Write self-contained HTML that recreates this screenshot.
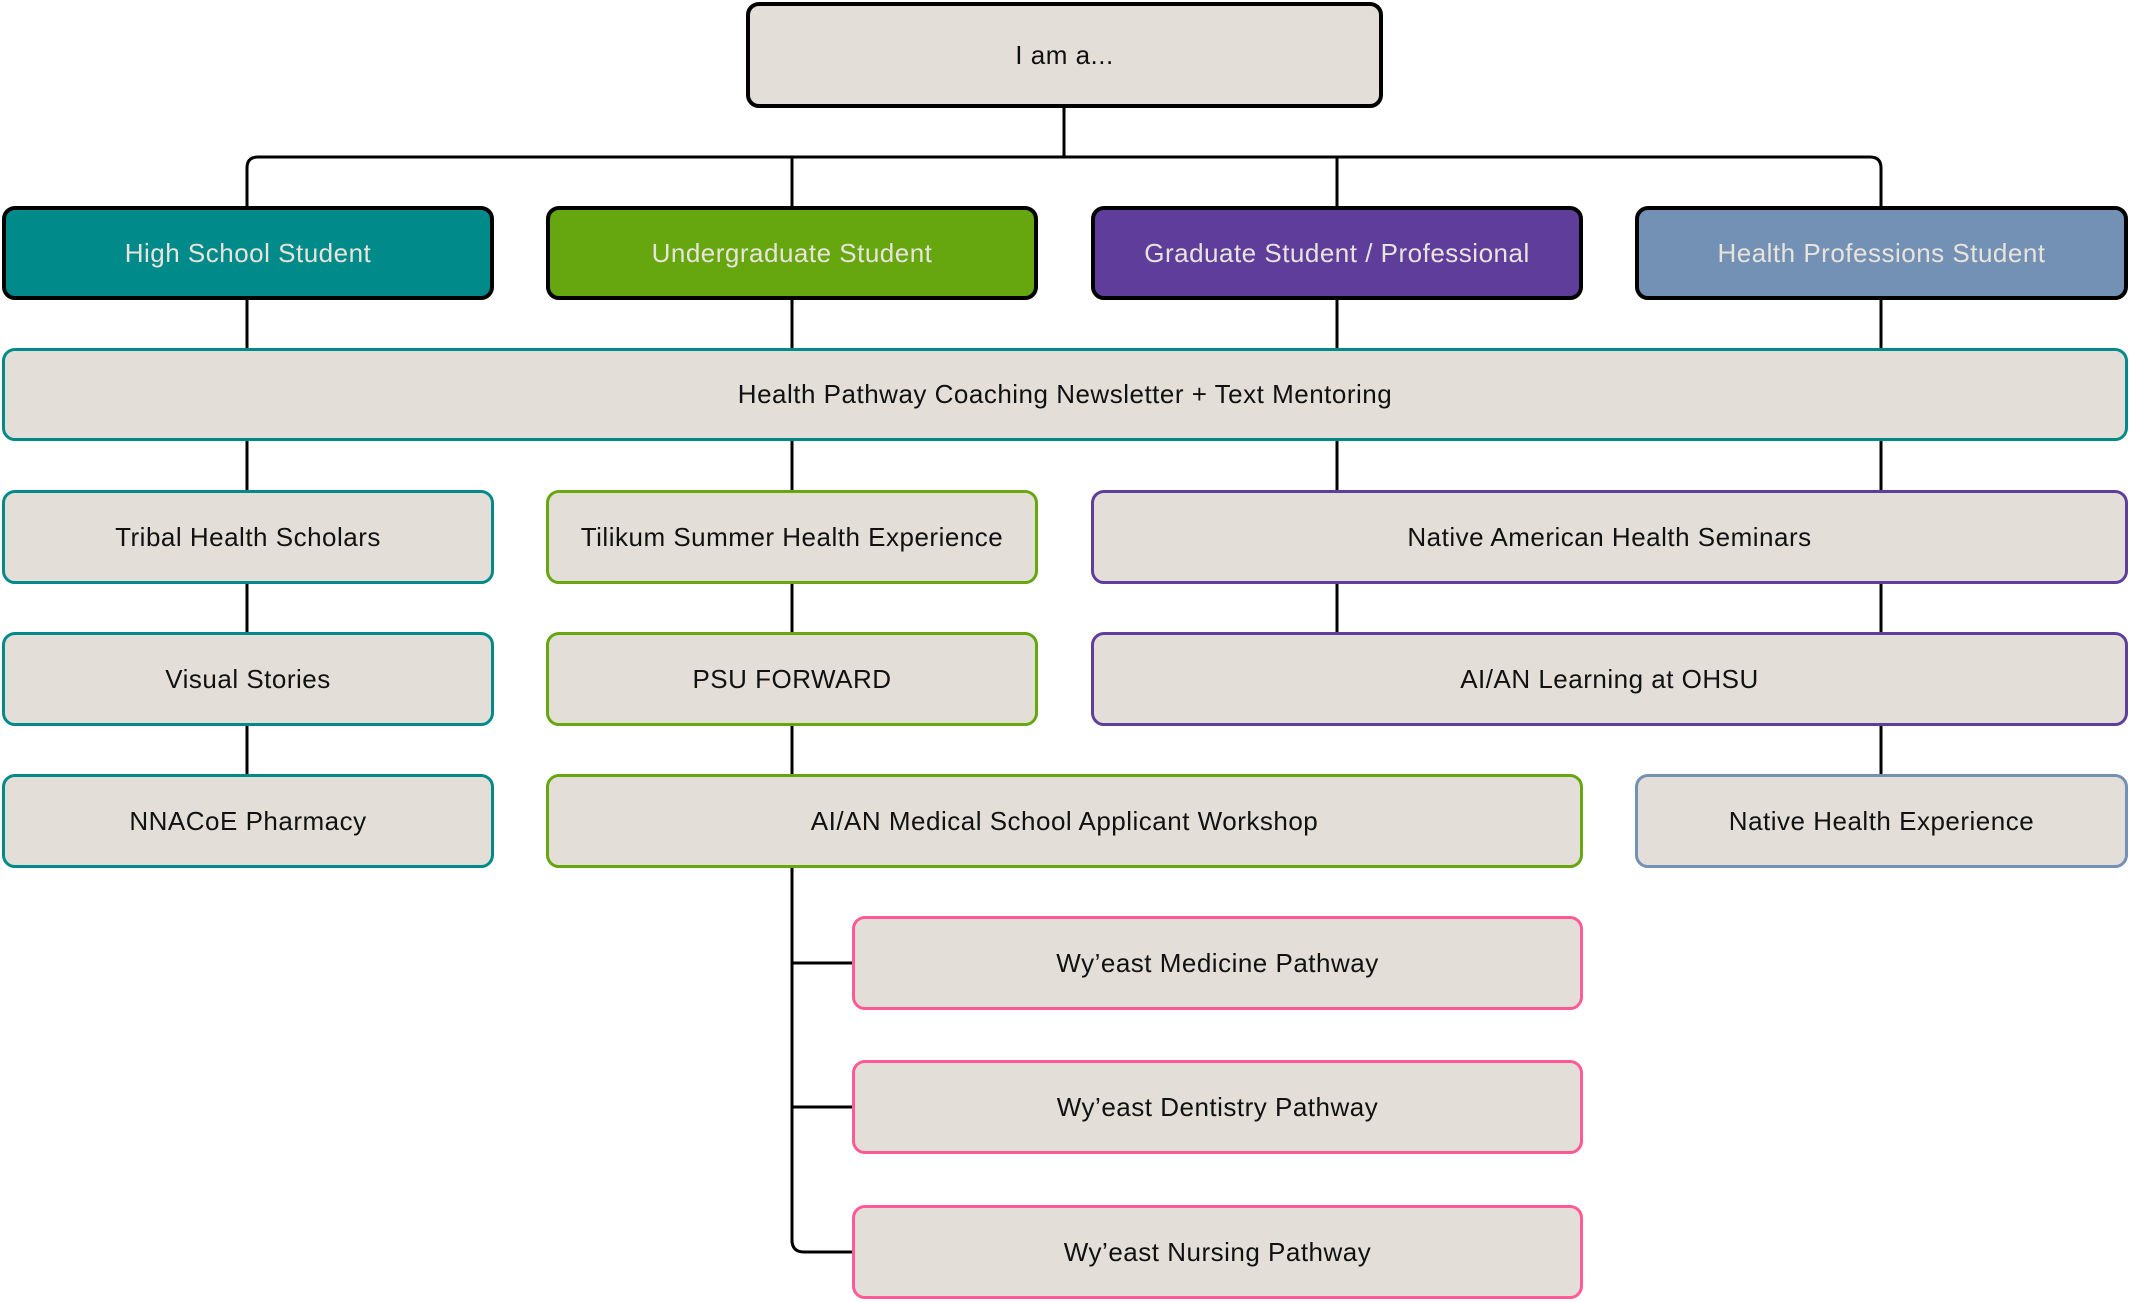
<!DOCTYPE html>
<html><head><meta charset="utf-8"><style>
html,body{margin:0;padding:0;background:#fff;}
body{width:2131px;height:1302px;position:relative;overflow:hidden;font-family:"Liberation Sans",sans-serif;}
.b{position:absolute;box-sizing:border-box;background:#E3DFD8;border:3px solid;border-radius:13px;display:flex;align-items:center;justify-content:center;font-size:26px;color:#111;letter-spacing:0.5px;white-space:nowrap;}
.h{border:4px solid #000;color:#E8E4DC;}
svg{position:absolute;left:0;top:0;}
</style></head><body>
<svg width="2131" height="1302">
<g stroke="#000" stroke-width="3" fill="none">
<line x1="1064" y1="105" x2="1064" y2="158"/>
<path d="M247 210 V168 Q247 157 258 157 H1870 Q1881 157 1881 168 V850"/>
<line x1="247" y1="200" x2="247" y2="850"/>
<line x1="792" y1="157" x2="792" y2="1243"/>
<path d="M792 1240 Q792 1252 804 1252 H855"/>
<line x1="792" y1="963" x2="855" y2="963"/>
<line x1="792" y1="1107" x2="855" y2="1107"/>
<line x1="1337" y1="157" x2="1337" y2="710"/>
</g>
</svg>
<div class="b h" style="left:746px;top:2px;width:637px;height:106px;background:#E3DFD8;color:#111;">I am a...</div>
<div class="b h" style="left:2px;top:206px;width:492px;height:94px;background:#008B8A;">High School Student</div>
<div class="b h" style="left:546px;top:206px;width:492px;height:94px;background:#66A60E;">Undergraduate Student</div>
<div class="b h" style="left:1091px;top:206px;width:492px;height:94px;background:#5F3D9A;">Graduate Student / Professional</div>
<div class="b h" style="left:1635px;top:206px;width:493px;height:94px;background:#7391B5;">Health Professions Student</div>
<div class="b" style="left:2px;top:348px;width:2126px;height:93px;border-color:#008B8A;">Health Pathway Coaching Newsletter + Text Mentoring</div>
<div class="b" style="left:2px;top:490px;width:492px;height:94px;border-color:#008B8A;">Tribal Health Scholars</div>
<div class="b" style="left:2px;top:632px;width:492px;height:94px;border-color:#008B8A;">Visual Stories</div>
<div class="b" style="left:2px;top:774px;width:492px;height:94px;border-color:#008B8A;">NNACoE Pharmacy</div>
<div class="b" style="left:546px;top:490px;width:492px;height:94px;border-color:#66A60E;">Tilikum Summer Health Experience</div>
<div class="b" style="left:546px;top:632px;width:492px;height:94px;border-color:#66A60E;">PSU FORWARD</div>
<div class="b" style="left:546px;top:774px;width:1037px;height:94px;border-color:#66A60E;">AI/AN Medical School Applicant Workshop</div>
<div class="b" style="left:1091px;top:490px;width:1037px;height:94px;border-color:#5F3D9A;">Native American Health Seminars</div>
<div class="b" style="left:1091px;top:632px;width:1037px;height:94px;border-color:#5F3D9A;">AI/AN Learning at OHSU</div>
<div class="b" style="left:1635px;top:774px;width:493px;height:94px;border-color:#7391B5;">Native Health Experience</div>
<div class="b" style="left:852px;top:916px;width:731px;height:94px;border-color:#FF5A96;">Wy’east Medicine Pathway</div>
<div class="b" style="left:852px;top:1060px;width:731px;height:94px;border-color:#FF5A96;">Wy’east Dentistry Pathway</div>
<div class="b" style="left:852px;top:1205px;width:731px;height:94px;border-color:#FF5A96;">Wy’east Nursing Pathway</div>
</body></html>
